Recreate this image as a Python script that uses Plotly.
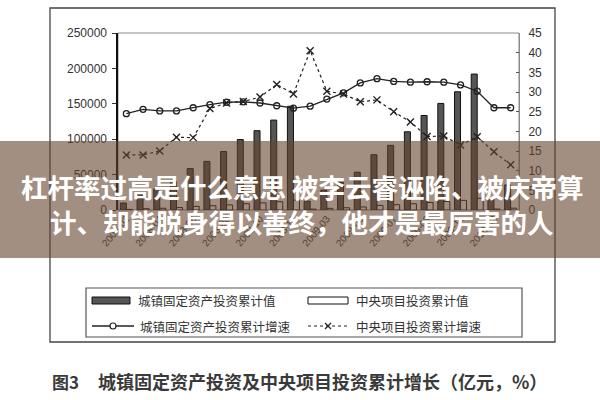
import plotly.graph_objects as go

# ---------------- data ----------------
categories = ["2008-02", "2008-03", "2008-04", "2008-05", "2008-06", "2008-07",
              "2008-08", "2008-09", "2008-10", "2008-11", "2008-12",
              "2009-02", "2009-03", "2009-04", "2009-05", "2009-06", "2009-07",
              "2009-08", "2009-09", "2009-10", "2009-11", "2009-12",
              "2010-02", "2010-03"]
tick_labels = categories[::2]

# 城镇固定资产投资累计值 (亿元)
urban_fai = [9900, 21800, 29700, 40200, 58500, 68700, 82700, 99500, 112000, 127000, 146500,
             12500, 28100, 38700, 53400, 78100, 91300, 110500, 133500, 150500, 167000, 192000,
             15900, 35500]
# 中央项目投资累计值 (亿元)
central_fai = [850, 1800, 2500, 3400, 5100, 6000, 7200, 8900, 10100, 11700, 13900,
               1200, 2300, 3200, 4300, 6500, 7500, 8800, 10600, 12000, 13600, 16500,
               1300, 2600]
# 城镇固定资产投资累计增速 (%)
urban_growth = [24.5, 25.6, 25.2, 25.2, 26.0, 26.8, 27.4, 27.5, 27.2, 26.5, 25.9,
                26.4, 28.2, 29.8, 32.3, 33.4, 32.7, 32.5, 32.6, 32.5, 31.8, 30.2,
                26.0, 26.0]
# 中央项目投资累计增速 (%)
central_growth = [14.0, 14.0, 15.0, 18.5, 18.4, 25.8, 27.2, 27.6, 28.7, 31.9, 29.5,
                  40.5, 30.2, 29.5, 27.5, 28.0, 25.0, 22.4, 18.7, 18.8, 16.5, 18.6,
                  14.8, 11.5]

legend_names = ["城镇固定资产投资累计值", "中央项目投资累计值",
                "城镇固定资产投资累计增速", "中央项目投资累计增速"]
banner_lines = ["杠杆率过高是什么意思 被李云睿诬陷、被庆帝算",
                "计、却能脱身得以善终，他才是最厉害的人"]
caption_no = "图3"
caption_text = "城镇固定资产投资及中央项目投资累计增长（亿元，%）"

# ---------------- geometry helpers ----------------
W, H = 600, 400
L, R, T, B = 118, 81, 33, 190
PW, PH = W - L - R, H - T - B


def px(x):
    return (x - L) / PW


def py(y):
    return (H - B - y) / PH


INK = "#222222"
CJK = "Noto Sans CJK SC"

fig = go.Figure()
fig.add_trace(go.Bar(x=categories, y=urban_fai, name=legend_names[0],
                     marker=dict(color="#555555", line=dict(color="#111111", width=1))))
fig.add_trace(go.Bar(x=categories, y=central_fai, name=legend_names[1],
                     marker=dict(color="white", line=dict(color="#111111", width=1))))
fig.add_trace(go.Scatter(x=categories, y=urban_growth, name=legend_names[2], yaxis="y2",
                         mode="lines+markers",
                         line=dict(color=INK, width=1.3),
                         marker=dict(symbol="circle-open", size=6, color=INK,
                                     line=dict(width=1.3, color=INK))))
fig.add_trace(go.Scatter(x=categories, y=central_growth, name=legend_names[3], yaxis="y2",
                         mode="lines+markers",
                         line=dict(color=INK, width=1.2, dash="dot"),
                         marker=dict(symbol="x-thin-open", size=7, color=INK,
                                     line=dict(width=1.4, color=INK))))

shapes = []
annotations = []

# outer frame
shapes.append(dict(type="rect", xref="paper", yref="paper",
                   x0=px(50), x1=px(555), y0=py(342), y1=py(8),
                   line=dict(color="#444444", width=1.3), layer="below"))
# plot frame
shapes.append(dict(type="rect", xref="paper", yref="paper",
                   x0=0, x1=1, y0=0, y1=1,
                   line=dict(color="#8a8a8a", width=1), layer="below"))
# legend box
shapes.append(dict(type="rect", xref="paper", yref="paper",
                   x0=px(86), x1=px(522), y0=py(337), y1=py(288),
                   line=dict(color="#555555", width=1.2), layer="below"))

# legend symbols
shapes.append(dict(type="rect", xref="paper", yref="paper",
                   x0=px(92), x1=px(130), y0=py(304), y1=py(297),
                   fillcolor="#555555", line=dict(color="#111111", width=1)))
shapes.append(dict(type="rect", xref="paper", yref="paper",
                   x0=px(308), x1=px(348), y0=py(304), y1=py(297),
                   fillcolor="white", line=dict(color="#111111", width=1)))
shapes.append(dict(type="line", xref="paper", yref="paper",
                   x0=px(92), x1=px(134), y0=py(326), y1=py(326),
                   line=dict(color=INK, width=1.3)))
shapes.append(dict(type="circle", xref="paper", yref="paper",
                   x0=px(110), x1=px(116), y0=py(329), y1=py(323),
                   fillcolor="white", line=dict(color=INK, width=1.2)))
shapes.append(dict(type="line", xref="paper", yref="paper",
                   x0=px(308), x1=px(348), y0=py(326), y1=py(326),
                   line=dict(color=INK, width=1.2, dash="dot")))
shapes.append(dict(type="line", xref="paper", yref="paper",
                   x0=px(325), x1=px(331), y0=py(329), y1=py(323),
                   line=dict(color=INK, width=1.3)))
shapes.append(dict(type="line", xref="paper", yref="paper",
                   x0=px(325), x1=px(331), y0=py(323), y1=py(329),
                   line=dict(color=INK, width=1.3)))

legend_pos = [(136, 300), (354, 300), (138, 326), (354, 326)]
for name, (lx, ly) in zip(legend_names, legend_pos):
    annotations.append(dict(text=name, xref="paper", yref="paper", x=px(lx), y=py(ly),
                            xanchor="left", yanchor="middle", showarrow=False,
                            font=dict(family=CJK, size=12.5, color="#333333")))

# caption
annotations.append(dict(text="<b>" + caption_no + "</b>", xref="paper", yref="paper",
                        x=px(50), y=py(381),
                        xanchor="left", yanchor="middle", showarrow=False,
                        font=dict(family=CJK, size=17, color="#3a3a3a")))
annotations.append(dict(text="<b>" + caption_text + "</b>", xref="paper", yref="paper",
                        x=px(96), y=py(381),
                        xanchor="left", yanchor="middle", showarrow=False,
                        font=dict(family=CJK, size=18, color="#3a3a3a")))

# banner overlay
shapes.append(dict(type="rect", xref="paper", yref="paper",
                   x0=px(-2), x1=px(602), y0=py(258), y1=py(141),
                   fillcolor="rgba(100,68,45,0.6)", line=dict(width=0), layer="above"))
for txt, ly in zip(banner_lines, [186, 221]):
    annotations.append(dict(text="<b>" + txt + "</b>", xref="paper", yref="paper",
                            x=px(302), y=py(ly), xanchor="center", yanchor="middle",
                            showarrow=False,
                            font=dict(family=CJK, size=26.5, color="white")))

fig.update_layout(
    width=W, height=H,
    margin=dict(l=L, r=R, t=T, b=B, pad=0),
    paper_bgcolor="white", plot_bgcolor="white",
    showlegend=False,
    barmode="group", bargap=0.28, bargroupgap=0.0,
    font=dict(family="Liberation Sans", color="#333333"),
    xaxis=dict(type="category", range=[-0.5, len(categories) - 0.5],
               tickmode="array", tickvals=tick_labels, ticktext=tick_labels,
               tickangle=-50, tickfont=dict(size=10, color="#333333"),
               showgrid=False, zeroline=False, showline=False, ticks=""),
    yaxis=dict(range=[0, 250000], dtick=50000, tickformat="d",
               showgrid=False, zeroline=False,
               showline=True, linecolor="#111111", linewidth=1.6,
               ticks="outside", ticklen=4, tickcolor="#333333",
               ticklabelstandoff=3,
               tickfont=dict(size=12, color="#333333")),
    yaxis2=dict(range=[0, 45], dtick=5, overlaying="y", side="right",
                showgrid=False, zeroline=False,
                showline=True, linecolor="#8a8a8a", linewidth=1,
                ticks="inside", ticklen=3, tickcolor="#555555",
                ticklabelstandoff=6,
                tickfont=dict(size=12, color="#333333")),
    shapes=shapes,
    annotations=annotations,
)

fig.write_html("out.html",
               config={"displayModeBar": False, "staticPlot": True},
               post_script="document.body.style.margin='0';"
                           "document.body.style.overflow='hidden';")
